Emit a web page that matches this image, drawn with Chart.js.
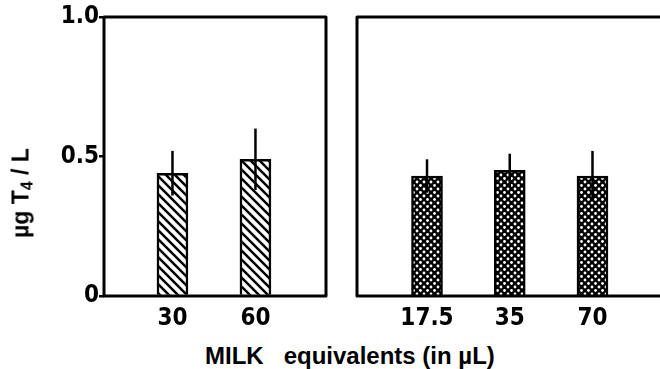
<!DOCTYPE html>
<html>
<head>
<meta charset="utf-8">
<script src="https://cdn.jsdelivr.net/npm/chart.js@4/dist/chart.umd.min.js"></script>
<style>
  body { margin: 0; width: 660px; height: 369px; background: #fff; position: relative; overflow: hidden; }
  #leftBox { position: absolute; left: 0; top: 0; width: 340px; height: 340px; }
  #rightBox { position: absolute; left: 340px; top: 0; width: 320px; height: 340px; }
  .lbl { position: absolute; font-family: "Liberation Sans", Arial, sans-serif; font-weight: bold; color: #000; white-space: pre; }
  #yTitle { left: 24px; top: 193px; font-size: 23px; line-height: 23px; transform: translate(-50%, -50%) rotate(-90deg); }
  #yTitle sub { font-size: 16px; vertical-align: -4px; }
  #xTitle { left: 205px; top: 344px; font-size: 24px; line-height: 24px; }
</style>
</head>
<body>
<div id="leftBox"><canvas id="leftChart" width="340" height="340"></canvas></div>
<div id="rightBox"><canvas id="rightChart" width="320" height="340"></canvas></div>
<div class="lbl" id="yTitle">µg T<sub>4</sub> / L</div>
<div class="lbl" id="xTitle">MILK   equivalents (in µL)</div>
<script>
'use strict';

// left panel (hatched bars)
var leftDoses = ['30', '60'];
var leftMeans = [0.44, 0.49];
var leftErrors = [0.08, 0.11];

// right panel (cross-hatched bars)
var rightDoses = ['17.5', '35', '70'];
var rightMeans = [0.43, 0.45, 0.43];
var rightErrors = [0.06, 0.06, 0.09];

var yTicks = [0, 0.5, 1];
var yTickLabels = ['0', '0.5', '1.0'];

var tickFont = { family: '"Liberation Sans Narrow", "DejaVu Sans Condensed", "Liberation Sans", sans-serif', size: 24, weight: 'bold' };

function makeDiagonal() {
    var s = 9;
    var c = document.createElement('canvas');
    c.width = s; c.height = s;
    var g = c.getContext('2d');
    g.fillStyle = '#fff';
    g.fillRect(0, 0, s, s);
    g.strokeStyle = '#000';
    g.lineWidth = 2.5;
    [-s, 0, s].forEach(function (k) {
        g.beginPath();
        g.moveTo(k - 1, -1);
        g.lineTo(k + s + 1, s + 1);
        g.stroke();
    });
    return g.createPattern(c, 'repeat');
}

function makeCross() {
    var s = 7;
    var c = document.createElement('canvas');
    c.width = s; c.height = s;
    var g = c.getContext('2d');
    g.fillStyle = '#000';
    g.fillRect(0, 0, s, s);
    g.fillStyle = '#fff';
    [[0, 0], [s, 0], [0, s], [s, s], [s / 2, s / 2]].forEach(function (p) {
        g.beginPath();
        g.arc(p[0], p[1], 1.4, 0, Math.PI * 2);
        g.fill();
    });
    return g.createPattern(c, 'repeat');
}

// vertical error lines, no caps
var errorLines = {
    id: 'errorLines',
    afterDatasetsDraw: function (chart) {
        var errs = chart.options.plugins.errorLines.errors;
        var means = chart.options.plugins.errorLines.means;
        var y = chart.scales.y;
        var ctx = chart.ctx;
        ctx.save();
        ctx.strokeStyle = '#000';
        ctx.lineWidth = 2.5;
        chart.getDatasetMeta(0).data.forEach(function (bar, i) {
            ctx.beginPath();
            ctx.moveTo(bar.x, y.getPixelForValue(means[i] + errs[i]));
            ctx.lineTo(bar.x, y.getPixelForValue(means[i] - errs[i]));
            ctx.stroke();
        });
        ctx.restore();
    }
};

// thick frame round the plot area
var frame = {
    id: 'frame',
    afterDraw: function (chart) {
        var a = chart.chartArea;
        var ctx = chart.ctx;
        ctx.save();
        ctx.strokeStyle = '#000';
        ctx.lineWidth = 3;
        ctx.lineJoin = 'round';
        ctx.beginPath();
        if (chart.options.plugins.frame.openRight) {
            ctx.moveTo(a.right + 2, a.top);
            ctx.lineTo(a.left, a.top);
            ctx.lineTo(a.left, a.bottom);
            ctx.lineTo(a.right + 2, a.bottom);
        } else {
            ctx.rect(a.left, a.top, a.right - a.left, a.bottom - a.top);
        }
        ctx.stroke();
        ctx.restore();
    }
};

function buildChart(canvasId, doses, means, errors, pattern, opts) {
    return new Chart(document.getElementById(canvasId), {
        type: 'bar',
        data: {
            datasets: [{
                data: means.map(function (v, i) { return { x: i + 1, y: v }; }),
                backgroundColor: pattern,
                borderColor: '#000',
                borderWidth: 2.5,
                barThickness: 31
            }]
        },
        options: {
            responsive: false,
            animation: false,
            layout: { padding: opts.padding },
            plugins: {
                legend: { display: false },
                tooltip: { enabled: false },
                errorLines: { means: means, errors: errors },
                frame: { openRight: opts.openRight }
            },
            scales: {
                x: {
                    type: 'linear',
                    offset: false,
                    min: opts.xMin,
                    max: opts.xMax,
                    grid: { display: false, drawTicks: false },
                    border: { display: false },
                    afterBuildTicks: function (s) {
                        s.ticks = doses.map(function (d, i) { return { value: i + 1 }; });
                    },
                    afterFit: function (s) { s.height = 44; },
                    ticks: {
                        color: '#000',
                        font: tickFont,
                        padding: 8,
                        maxRotation: 0,
                        callback: function (v, i) { return doses[i]; }
                    }
                },
                y: {
                    display: opts.showY,
                    min: 0,
                    max: 1,
                    afterBuildTicks: function (s) {
                        s.ticks = yTicks.map(function (v) { return { value: v }; });
                    },
                    afterFit: function (s) { s.width = opts.yWidth; },
                    grid: { drawOnChartArea: false, drawTicks: true, tickLength: 5, color: '#000', lineWidth: 2.5 },
                    border: { display: false },
                    ticks: {
                        color: '#000',
                        font: tickFont,
                        padding: 0,
                        callback: function (v, i) { return yTickLabels[i]; }
                    }
                }
            }
        },
        plugins: [errorLines, frame]
    });
}

buildChart('leftChart', leftDoses, leftMeans, leftErrors, makeDiagonal(), {
    padding: { top: 17, right: 14, left: 0, bottom: 0 },
    xMin: 0.175, xMax: 2.85, showY: true, yWidth: 104, openRight: false
});

buildChart('rightChart', rightDoses, rightMeans, rightErrors, makeCross(), {
    padding: { top: 17, right: 0, left: 17, bottom: 0 },
    xMin: 0.154, xMax: 3.816, showY: false, yWidth: 0, openRight: true
});
</script>
</body>
</html>
